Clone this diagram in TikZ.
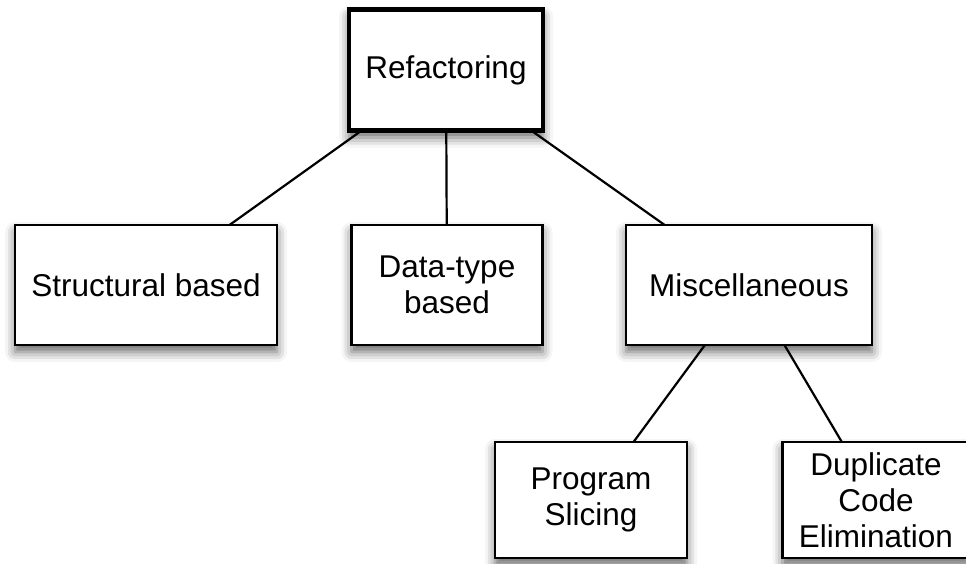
\documentclass[tikz,border=0pt]{standalone}
\usepackage{fontspec}
\setmainfont{Liberation Sans}
\usetikzlibrary{shadows.blur}

\tikzset{
  box/.style={draw=black, line width=2.2pt, fill=white, align=center,
    inner sep=0pt, outer sep=0pt,
    font=\fontsize{31.5}{36}\selectfont,
    blur shadow={shadow xshift=0pt, shadow yshift=-7pt,
      shadow blur radius=10pt, shadow opacity=60}},
  rootbox/.style={box, line width=4.6pt},
  link/.style={draw=black, line width=2.2pt}
}

\begin{document}
\begin{tikzpicture}[x=1pt, y=-1pt]
  \useasboundingbox (0,0) rectangle (966,563);

  % root
  \node[rootbox, minimum width=194pt, minimum height=121pt] (root) at (446,70) {Refactoring};

  % second level
  \node[box, minimum width=262pt, minimum height=120pt] (struct) at (146,285) {Structural based};
  \node[box, minimum width=191pt, minimum height=120pt] (dtype) at (447,285) {Data-type\\based};
  \node[box, minimum width=246pt, minimum height=120pt] (misc) at (749,285) {Miscellaneous};

  % third level
  \node[box, minimum width=192pt, minimum height=116pt] (slice) at (591,500) {Program\\Slicing};
  \node[box, minimum width=187pt, minimum height=116pt] (dup) at (876,500) {Duplicate\\Code\\Elimination};

  % connectors
  \path[link] (root) -- (struct);
  \path[link] (root) -- (dtype);
  \path[link] (root) -- (misc);
  \path[link] (misc) -- (slice);
  \path[link] (misc) -- (dup);
\end{tikzpicture}
\end{document}
